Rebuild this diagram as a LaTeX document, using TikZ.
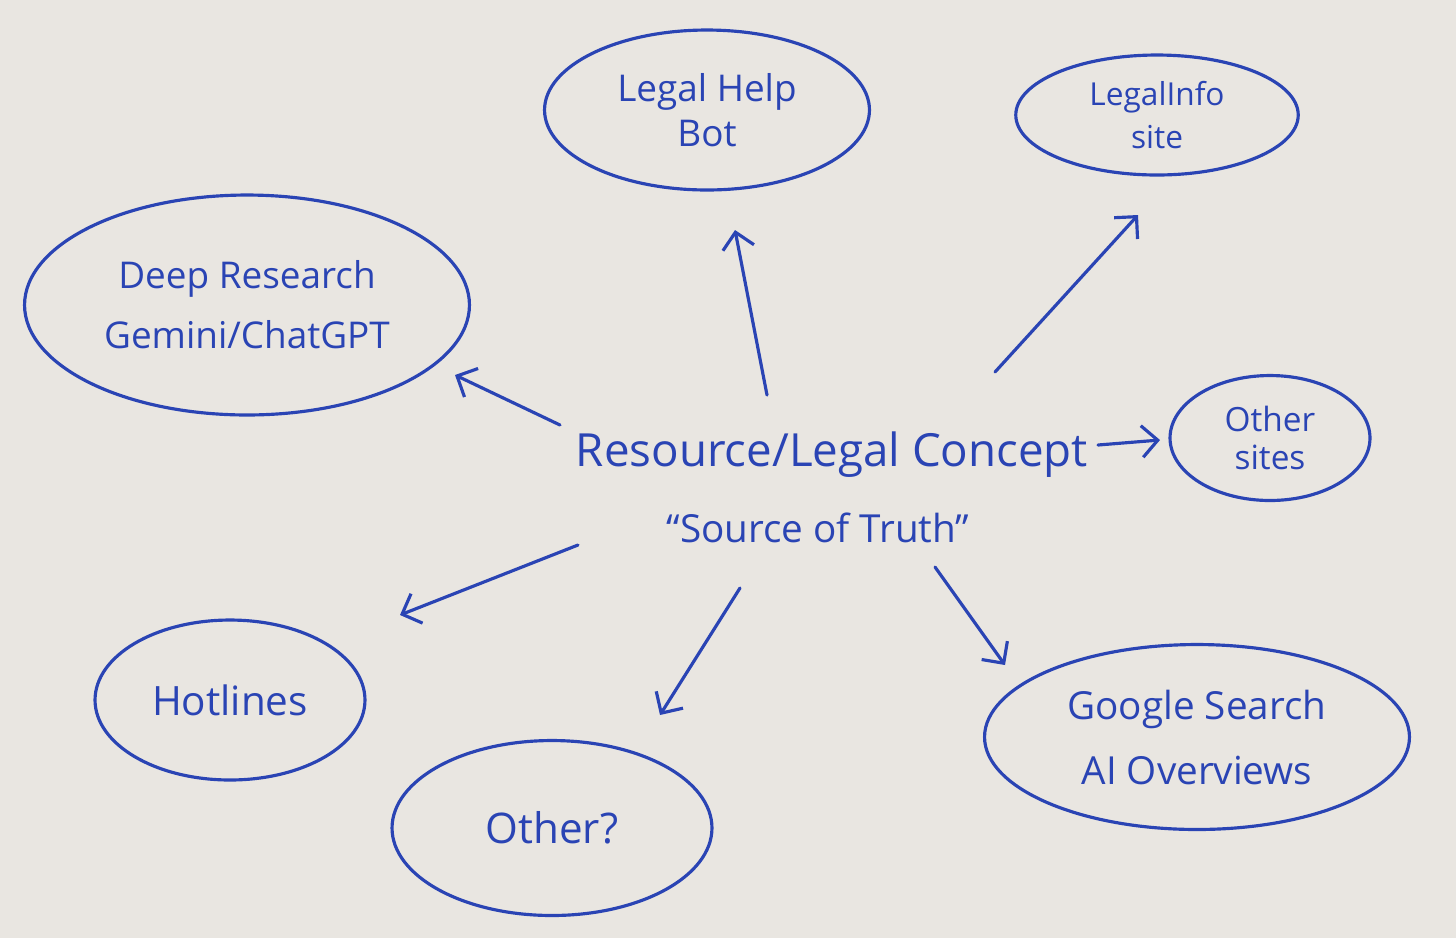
\documentclass[tikz,border=0pt]{standalone}
\usepackage{fontspec}
\setmainfont{Open Sans}
\usetikzlibrary{shapes.geometric,arrows.meta}
\definecolor{paper}{HTML}{E9E6E1}
\definecolor{ink}{HTML}{2A44B4}
\begin{document}
\begin{tikzpicture}[x=0.02cm,y=-0.02cm,
 bubble/.style={ellipse, draw=ink, line width=1.8pt, text=ink, align=center, inner sep=0pt},
 arr/.style={draw=ink, line width=1.8pt, line cap=round, -{Straight Barb[length=9pt,width=18pt,line width=1.8pt]}},
 lbl/.style={text=ink, align=center, inner sep=0pt}]
\fill[paper] (0,0) rectangle (1456,938);
\useasboundingbox (0,0) rectangle (1456,938);

\node[bubble, minimum width=6.5cm, minimum height=3.2cm, font=\fontsize{21}{26}\selectfont] (bot) at (707,110) {Legal Help\\Bot};
\node[bubble, minimum width=5.65cm, minimum height=2.4cm, font=\fontsize{18}{24}\selectfont] (info) at (1157,115) {LegalInfo\\site};
\node[bubble, minimum width=8.9cm, minimum height=4.4cm, font=\fontsize{21}{34}\selectfont] (deep) at (247,305) {Deep Research\\Gemini/ChatGPT};
\node[bubble, minimum width=4.0cm, minimum height=2.5cm, font=\fontsize{19}{22}\selectfont] (sites) at (1270,438) {Other\\sites};
\node[bubble, minimum width=5.4cm, minimum height=3.2cm, font=\fontsize{23}{28}\selectfont] (hot) at (230,700) {Hotlines};
\node[bubble, minimum width=6.4cm, minimum height=3.5cm, font=\fontsize{24}{30}\selectfont] (oth) at (552,828) {Other?};
\node[bubble, minimum width=8.5cm, minimum height=3.7cm, font=\fontsize{22}{37}\selectfont] (goog) at (1197,737) {Google Search\\AI Overviews};

\node[lbl, font=\fontsize{26}{30}\selectfont] (src) at (832,455) {Resource/Legal Concept};
\node[lbl, font=\fontsize{22}{26}\selectfont] (truth) at (818,528) {“Source of Truth”};

\coordinate (s1) at (560,425); \coordinate (t1) at (455,375);
\coordinate (s2) at (767,395); \coordinate (t2) at (735,230);
\coordinate (s3) at (995,372); \coordinate (t3) at (1138,215);
\coordinate (s4) at (1098,445); \coordinate (t4) at (1160,440);
\coordinate (s5) at (578,545); \coordinate (t5) at (400,615);
\coordinate (s6) at (740,588); \coordinate (t6) at (660,715);
\coordinate (s7) at (935,567); \coordinate (t7) at (1005,665);

\draw[arr] (s1) -- (t1);
\draw[arr] (s2) -- (t2);
\draw[arr] (s3) -- (t3);
\draw[arr] (s4) -- (t4);
\draw[arr] (s5) -- (t5);
\draw[arr] (s6) -- (t6);
\draw[arr] (s7) -- (t7);
\end{tikzpicture}
\end{document}
